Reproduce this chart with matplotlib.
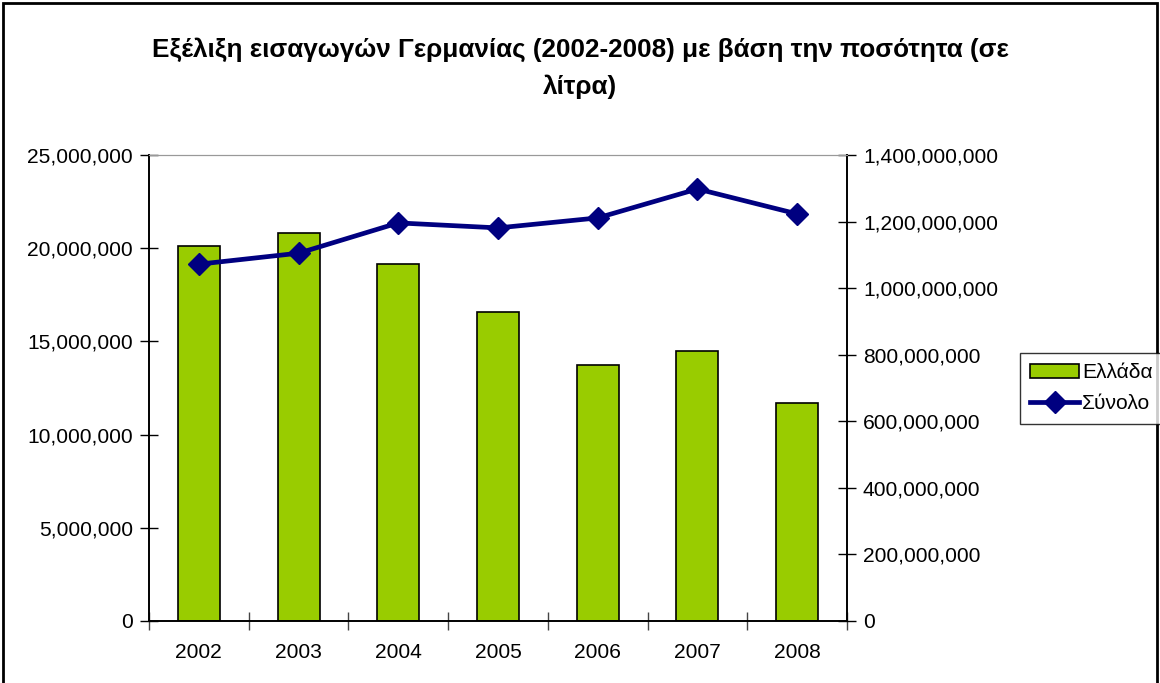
import numpy as np
import matplotlib.pyplot as plt
from matplotlib.patches import Rectangle
from matplotlib.ticker import FuncFormatter, MultipleLocator

plt.rcParams['font.family'] = ['Liberation Sans', 'DejaVu Sans']

# Data
years = ['2002', '2003', '2004', '2005', '2006', '2007', '2008']
greece = [20100000, 20800000, 19150000, 16580000, 13730000, 14480000, 11700000]   # left axis
total = [1072000000, 1105000000, 1196000000, 1181000000, 1211000000, 1298000000, 1223000000]  # right axis

title = 'Εξέλιξη εισαγωγών Γερμανίας (2002-2008) με βάση την ποσότητα (σε\nλίτρα)'

fig = plt.figure(figsize=(11.6, 6.83), dpi=100)
ax = fig.add_axes([149 / 1160, 62 / 683, 698 / 1160, 466 / 683])
ax2 = ax.twinx()

x = np.arange(len(years))
bars = ax.bar(x, greece, width=0.42, color='#99CC00', edgecolor='black', linewidth=1.2,
              label='Ελλάδα', zorder=2)
line, = ax2.plot(x, total, color='#000080', lw=3.4, marker='D', markersize=11.5,
                 label='Σύνολο', zorder=3)

fmt = FuncFormatter(lambda v, p: f'{int(v):,}')
ax.set_xlim(-0.5, len(years) - 0.5)
ax.set_ylim(0, 25000000)
ax.yaxis.set_major_locator(MultipleLocator(5000000))
ax.yaxis.set_major_formatter(fmt)
ax2.set_ylim(0, 1400000000)
ax2.yaxis.set_major_locator(MultipleLocator(200000000))
ax2.yaxis.set_major_formatter(fmt)

fs = 15.1
# ticks between categories, labels at centres
ax.set_xticks(np.arange(len(years) + 1) - 0.5)
ax.set_xticklabels([])
ax.set_xticks(x, minor=True)
ax.set_xticklabels(years, minor=True)
ax.tick_params(axis='x', which='major', direction='inout', length=13, width=1, color='#444444')
ax.tick_params(axis='x', which='minor', length=0, pad=16, labelsize=fs)
ax.tick_params(axis='y', direction='inout', length=13, width=1, pad=5, labelsize=fs)
ax2.tick_params(axis='y', direction='inout', length=13, width=1, pad=5, labelsize=fs)

for a in (ax, ax2):
    a.spines['top'].set_color('#999999')
    a.spines['left'].set_linewidth(1.2)
    a.spines['right'].set_linewidth(1.2)
    a.spines['bottom'].set_linewidth(1.2)
ax2.set_zorder(ax.get_zorder() + 1)
ax2.patch.set_visible(False)

fig.text(0.5, 1 - 68 / 683, title, ha='center', va='center', fontsize=18.8,
         fontweight='bold', linespacing=1.65)

leg = fig.legend([bars, line], ['Ελλάδα', 'Σύνολο'], loc='upper left',
                 bbox_to_anchor=(1020 / 1160, 1 - 353 / 683), fontsize=fs,
                 frameon=True, fancybox=False, edgecolor='black', handlelength=2.3,
                 handletextpad=0.15, borderpad=0.5, labelspacing=0.55, borderaxespad=0)
leg.get_frame().set_linewidth(1)

fig.patches.append(Rectangle((3 / 1160, -0.02), 1154 / 1160, 1.02 - 3 / 683,
                             transform=fig.transFigure, fill=False, edgecolor='black',
                             linewidth=2))

fig.savefig('out.png', dpi=100)
